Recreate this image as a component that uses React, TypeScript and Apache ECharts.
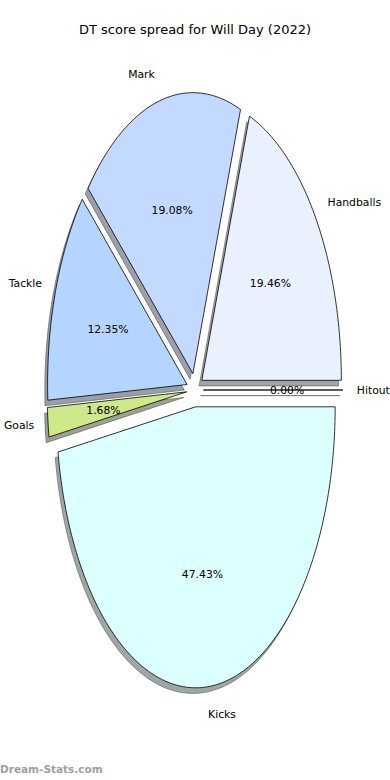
import React, { useEffect, useRef } from "react";
import * as echarts from "echarts";

// Data (DT points by source)
const categories: string[] = ["Hitout", "Handballs", "Mark", "Tackle", "Goals", "Kicks"];
const points: number[] = [0, 208, 204, 132, 18, 507];
const sliceColors: string[] = ["#e8f0ff", "#eaf1fe", "#c4d9ff", "#b3d5ff", "#cde98a", "#dcffff"];
const titleText = "DT score spread for Will Day (2022)";
const watermark = "Dream-Stats.com";

// Layout (pixels)
const CX = 195;
const CY = 390;
const RX = 139.5;
const RY = 281;
const EXPLODE = 0.06;
const SDX = -0.02 * RX;
const SDY = 0.02 * RY;
const FONT = "DejaVu Sans";

function hexToRgb(h: string): number[] {
  const s = h.replace("#", "");
  return [0, 2, 4].map((k) => parseInt(s.slice(k, k + 2), 16));
}

export default function App() {
  const ref = useRef<HTMLDivElement>(null);
  useEffect(() => {
    document.body.style.margin = "0";
    if (!ref.current) return;
    const chart = echarts.init(ref.current, undefined, { renderer: "svg" });
    const total = points.reduce((a, b) => a + b, 0);
    const option: any = {
      animation: false,
      backgroundColor: "#ffffff",
      title: {
        text: titleText,
        left: "center",
        top: 23,
        padding: 0,
        textStyle: { fontFamily: FONT, fontSize: 13, fontWeight: "normal", color: "#000" },
      },
      graphic: [
        {
          type: "text",
          left: 0,
          top: 763,
          style: {
            text: watermark,
            fontFamily: FONT,
            fontSize: 10.5,
            fontWeight: "bold",
            fill: "#a0a0a0",
          },
        },
      ],
      series: [
        {
          type: "custom",
          coordinateSystem: "none",
          data: points.map((v, i) => ({ name: categories[i], value: v })),
          renderItem: (params: any, api: any) => {
            const i = params.dataIndex;
            const v = api.value(0);
            let start = 0;
            for (let j = 0; j < i; j++) start += points[j];
            const a0 = (start / total) * Math.PI * 2;
            const a1 = ((start + v) / total) * Math.PI * 2;
            const mid = (a0 + a1) / 2;
            const ox = CX + EXPLODE * RX * Math.cos(mid);
            const oy = CY - EXPLODE * RY * Math.sin(mid);
            const pts: number[][] = [[ox, oy]];
            const n = Math.max(2, Math.ceil(((a1 - a0) / (Math.PI * 2)) * 360));
            for (let k = 0; k <= n; k++) {
              const a = a0 + ((a1 - a0) * k) / n;
              pts.push([ox + RX * Math.cos(a), oy - RY * Math.sin(a)]);
            }
            const spts = pts.map(([x, y]) => [x + SDX, y + SDY]);
            const rgb = hexToRgb(sliceColors[i]).map((c) => Math.round(c * 0.3));
            const shadow = `rgba(${rgb[0]},${rgb[1]},${rgb[2]},0.5)`;
            const pct = ((v / total) * 100).toFixed(2) + "%";
            const c = Math.cos(mid);
            const s = Math.sin(mid);
            return {
              type: "group",
              children: [
                {
                  type: "polygon",
                  z2: 1,
                  shape: { points: spts },
                  style: { fill: shadow, stroke: shadow, lineWidth: 1 },
                },
                {
                  type: "polygon",
                  z2: 10,
                  shape: { points: pts },
                  style: { fill: sliceColors[i], stroke: "#000", lineWidth: 0.8 },
                },
                {
                  type: "text",
                  z2: 20,
                  x: ox + 1.1 * RX * c,
                  y: oy - 1.1 * RY * s,
                  style: {
                    text: categories[i],
                    fontFamily: FONT,
                    fontSize: 10.8,
                    fill: "#000",
                    align: c > 0 ? "left" : "right",
                    verticalAlign: "middle",
                  },
                },
                {
                  type: "text",
                  z2: 20,
                  x: ox + 0.6 * RX * c,
                  y: oy - 0.6 * RY * s,
                  style: {
                    text: pct,
                    fontFamily: FONT,
                    fontSize: 10.8,
                    fill: "#000",
                    align: "center",
                    verticalAlign: "middle",
                  },
                },
              ],
            };
          },
        },
      ],
    };
    chart.setOption(option);
    return () => chart.dispose();
  }, []);
  return (
    <div
      ref={ref}
      style={{ position: "absolute", left: 0, top: 0, width: 390, height: 780 }}
    />
  );
}
